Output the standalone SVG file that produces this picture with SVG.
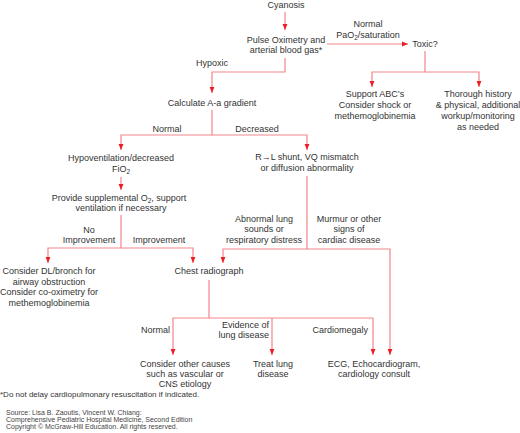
<svg xmlns="http://www.w3.org/2000/svg" width="520" height="433" viewBox="0 0 520 433">
<style>
text{font-family:"Liberation Sans",Arial,sans-serif;font-size:9px;fill:#333;text-anchor:middle}
.c path{fill:none;stroke:#f4858c;stroke-width:1.2}
.l{text-anchor:end}
.fn{text-anchor:start;font-size:8px}
.src{text-anchor:start;font-size:7px;fill:#444}
.sub{font-size:6.5px}
</style>
<defs>
<marker id="ah" markerUnits="userSpaceOnUse" markerWidth="8" markerHeight="8" refX="6" refY="3" orient="auto">
<path d="M0,0.6 L6,3 L0,5.4 z" fill="#ee1c25"/>
</marker>
</defs>
<rect width="520" height="433" fill="#fff"/>
<g class="c" id="connectors">
<path d="M285,12 V30" marker-end="url(#ah)"/>
<path d="M285,58 V72 H212 V93" marker-end="url(#ah)"/>
<path d="M327,44 H408" marker-end="url(#ah)"/>
<path d="M425,51 V72 H372 V87" marker-end="url(#ah)"/>
<path d="M425,72 H479 V87" marker-end="url(#ah)"/>
<path d="M212,110 V135 H121 V150" marker-end="url(#ah)"/>
<path d="M212,135 H307 V150" marker-end="url(#ah)"/>
<path d="M121,177 V190" marker-end="url(#ah)"/>
<path d="M121,215 V248 H48 V263" marker-end="url(#ah)"/>
<path d="M121,248 H193 V263" marker-end="url(#ah)"/>
<path d="M307,176 V249 H223 V263" marker-end="url(#ah)"/>
<path d="M307,249 H390 V355" marker-end="url(#ah)"/>
<path d="M209,280 V318 H173 V355" marker-end="url(#ah)"/>
<path d="M209,318 H373 V355" marker-end="url(#ah)"/>
<path d="M272,318 V355" marker-end="url(#ah)"/>
</g>
<g id="labels">
<text x="368" y="27">Normal</text>
<text x="368" y="38">PaO<tspan class="sub" dy="2">2</tspan><tspan dy="-2">/saturation</tspan></text>
<text x="212" y="66">Hypoxic</text>
<text x="167" y="132">Normal</text>
<text x="257" y="132">Decreased</text>
<text x="89" y="233">No</text>
<text x="89" y="243">Improvement</text>
<text x="159" y="243">Improvement</text>
<text x="264" y="222">Abnormal lung</text>
<text x="264" y="232">sounds or</text>
<text x="264" y="243">respiratory distress</text>
<text x="349" y="222">Murmur or other</text>
<text x="349" y="232">signs of</text>
<text x="349" y="243">cardiac disease</text>
<text class="l" x="170" y="333">Normal</text>
<text class="l" x="269" y="328">Evidence of</text>
<text class="l" x="269" y="338">lung disease</text>
<text class="l" x="368" y="333">Cardiomegaly</text>
</g>
<g id="cyanosis"><text x="286" y="8">Cyanosis</text></g>
<g id="pulse-ox"><text x="286" y="43">Pulse Oximetry and</text><text x="286" y="53">arterial blood gas*</text></g>
<g id="toxic"><text x="425" y="47">Toxic?</text></g>
<g id="support-abc"><text x="375" y="97">Support ABC’s</text><text x="375" y="108">Consider shock or</text><text x="375" y="119">methemoglobinemia</text></g>
<g id="history"><text x="478" y="97">Thorough history</text><text x="478" y="108">&amp; physical, additional</text><text x="478" y="119">workup/monitoring</text><text x="478" y="130">as needed</text></g>
<g id="aa-gradient"><text x="212" y="106">Calculate A-a gradient</text></g>
<g id="hypovent"><text x="121" y="161">Hypoventilation/decreased</text><text x="121" y="172">FiO<tspan class="sub" dy="2">2</tspan></text></g>
<g id="shunt"><text x="307" y="160">R→L shunt, VQ mismatch</text><text x="307" y="171">or diffusion abnormality</text></g>
<g id="supplemental"><text x="119" y="201">Provide supplemental O<tspan class="sub" dy="2">2</tspan><tspan dy="-2">, support</tspan></text><text x="121" y="211">ventilation if necessary</text></g>
<g id="consider-dl"><text x="49" y="274">Consider DL/bronch for</text><text x="49" y="285">airway obstruction</text><text x="49" y="295">Consider co-oximetry for</text><text x="49" y="306">methemoglobinemia</text></g>
<g id="chest"><text x="209" y="274">Chest radiograph</text></g>
<g id="other-causes"><text x="185" y="367">Consider other causes</text><text x="185" y="377">such as vascular or</text><text x="185" y="387">CNS etiology</text></g>
<g id="treat-lung"><text x="273" y="367">Treat lung</text><text x="273" y="377">disease</text></g>
<g id="ecg"><text x="374" y="367">ECG, Echocardiogram,</text><text x="374" y="377">cardiology consult</text></g>
<g id="footnote">
<text class="fn" x="0" y="397">*Do not delay cardiopulmonary resuscitation if indicated.</text>
<text class="src" x="6" y="415">Source: Lisa B. Zaoutis, Vincent W. Chiang:</text>
<text class="src" x="6" y="422">Comprehensive Pediatric Hospital Medicine, Second Edition</text>
<text class="src" x="6" y="429">Copyright © McGraw-Hill Education. All rights reserved.</text>
</g>
</svg>
